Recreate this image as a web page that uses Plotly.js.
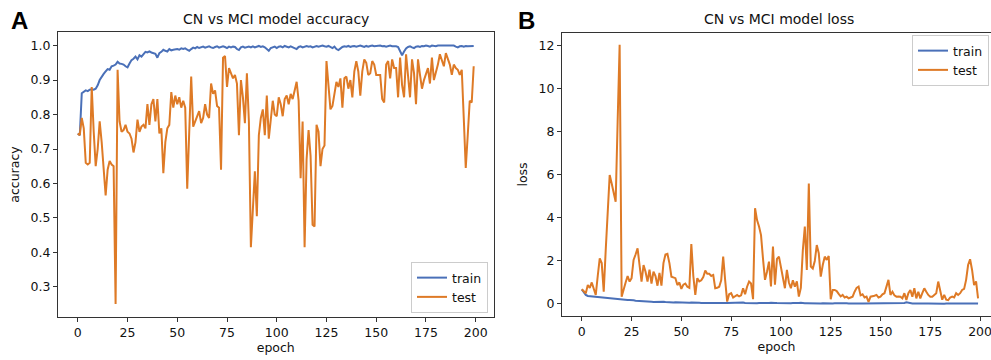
<!DOCTYPE html>
<html>
<head>
<meta charset="utf-8">
<script src="https://cdn.plot.ly/plotly-3.0.1.min.js"></script>
<style>
html,body{margin:0;padding:0;background:#fff;}
#chart{width:991px;height:360px;}
</style>
</head>
<body>
<div id="chart"></div>
<script>
// ---- data ----
var epochCount = 200;
var xTickVals = [0, 25, 50, 75, 100, 125, 150, 175, 200];
var accTickVals = [0.3, 0.4, 0.5, 0.6, 0.7, 0.8, 0.9, 1.0];
var accTickText = ["0.3", "0.4", "0.5", "0.6", "0.7", "0.8", "0.9", "1.0"];
var lossTickVals = [0, 2, 4, 6, 8, 10, 12];
var seriesNames = ["train", "test"];

var trainAcc = [
0.745,0.74,0.862,0.865,0.87,0.868,0.872,0.873,0.872,0.875,
0.885,0.9,0.91,0.918,0.925,0.932,0.93,0.94,0.942,0.945,
0.953,0.948,0.947,0.945,0.94,0.937,0.948,0.958,0.962,0.968,
0.96,0.972,0.968,0.975,0.982,0.98,0.983,0.98,0.978,0.976,
0.965,0.978,0.982,0.988,0.985,0.983,0.99,0.986,0.988,0.99,
0.99,0.988,0.992,0.99,0.992,0.988,0.985,0.99,0.994,0.992,
0.996,0.993,0.995,0.997,0.994,0.996,0.998,0.995,0.993,0.996,
0.998,0.994,0.996,0.998,0.996,0.993,0.997,0.995,0.997,0.996,
0.99,0.987,0.995,0.997,0.994,0.996,0.997,0.995,0.998,0.995,
0.997,0.999,0.996,0.998,0.995,0.99,0.985,0.993,0.995,0.997,
0.993,0.997,0.998,0.995,0.999,0.997,0.995,0.998,0.996,0.993,
0.99,0.996,0.998,0.995,0.997,0.999,0.997,0.998,0.995,0.998,
0.999,0.997,0.999,1.0,0.998,0.997,0.999,0.995,0.993,0.997,
0.99,0.987,0.993,0.996,0.998,0.997,0.999,0.996,0.998,0.999,
0.997,0.999,1.0,0.998,0.996,0.999,0.997,0.999,1.0,0.998,
0.999,0.998,1.0,0.998,0.999,0.997,0.999,1.0,0.998,0.999,
0.998,0.996,0.985,0.972,0.983,0.992,0.996,0.998,0.995,0.993,
0.997,0.998,0.996,0.999,0.998,1.0,0.999,0.997,1.0,0.999,
0.998,1.0,1.0,0.999,1.0,0.998,1.0,0.999,0.998,1.0,
0.997,0.995,0.998,0.999,0.997,0.999,0.998,0.999,0.998,0.999
];

var testAcc = [
0.745,0.74,0.79,0.76,0.66,0.655,0.66,0.88,0.75,0.65,
0.70,0.78,0.72,0.64,0.565,0.64,0.665,0.655,0.65,0.25,
0.93,0.78,0.75,0.755,0.77,0.75,0.745,0.73,0.69,0.72,
0.785,0.75,0.765,0.77,0.76,0.83,0.77,0.83,0.845,0.78,
0.845,0.745,0.76,0.63,0.72,0.76,0.77,0.865,0.82,0.855,
0.83,0.85,0.82,0.84,0.82,0.585,0.75,0.91,0.765,0.78,
0.79,0.81,0.775,0.79,0.83,0.80,0.79,0.89,0.86,0.87,
0.825,0.82,0.64,0.965,0.97,0.88,0.935,0.92,0.905,0.915,
0.89,0.74,0.90,0.85,0.775,0.92,0.78,0.415,0.55,0.635,
0.505,0.74,0.79,0.815,0.74,0.855,0.73,0.79,0.84,0.80,
0.795,0.85,0.83,0.795,0.845,0.855,0.83,0.86,0.845,0.87,
0.895,0.84,0.615,0.78,0.415,0.67,0.755,0.68,0.48,0.475,
0.77,0.75,0.65,0.70,0.71,0.955,0.88,0.815,0.825,0.855,
0.895,0.88,0.905,0.82,0.905,0.91,0.875,0.90,0.85,0.925,
0.955,0.925,0.855,0.925,0.96,0.95,0.915,0.92,0.955,0.945,
0.915,0.915,0.915,0.845,0.835,0.945,0.955,0.905,0.96,0.935,
0.935,0.85,0.965,0.885,0.85,0.975,0.91,0.85,0.96,0.92,
0.83,0.96,0.915,0.875,0.90,0.915,0.935,0.89,0.965,0.90,
0.92,0.945,0.975,0.96,0.94,0.978,0.96,0.945,0.915,0.945,
0.935,0.93,0.915,0.93,0.79,0.645,0.74,0.84,0.835,0.94
];

var trainLoss = [
0.68,0.55,0.42,0.37,0.36,0.35,0.34,0.33,0.32,0.31,
0.30,0.28,0.27,0.26,0.25,0.24,0.235,0.22,0.21,0.20,
0.19,0.20,0.19,0.18,0.185,0.19,0.17,0.15,0.14,0.13,
0.15,0.12,0.125,0.11,0.10,0.10,0.095,0.10,0.10,0.105,
0.13,0.10,0.09,0.08,0.085,0.09,0.07,0.075,0.07,0.065,
0.065,0.07,0.06,0.065,0.06,0.07,0.075,0.065,0.055,0.06,
0.05,0.055,0.05,0.045,0.05,0.045,0.04,0.045,0.05,0.045,
0.04,0.05,0.045,0.04,0.045,0.05,0.04,0.045,0.04,0.045,
0.06,0.065,0.045,0.04,0.045,0.04,0.04,0.045,0.035,0.045,
0.04,0.03,0.04,0.035,0.045,0.055,0.065,0.045,0.04,0.035,
0.045,0.035,0.03,0.04,0.03,0.035,0.04,0.03,0.035,0.045,
0.055,0.035,0.03,0.035,0.03,0.025,0.03,0.03,0.035,0.03,
0.025,0.03,0.025,0.02,0.025,0.03,0.025,0.035,0.04,0.03,
0.045,0.05,0.035,0.03,0.025,0.03,0.025,0.03,0.025,0.02,
0.025,0.02,0.02,0.025,0.03,0.02,0.025,0.02,0.018,0.022,
0.02,0.022,0.018,0.02,0.02,0.025,0.02,0.018,0.02,0.02,
0.022,0.03,0.05,0.075,0.05,0.03,0.025,0.02,0.025,0.03,
0.022,0.02,0.025,0.018,0.02,0.015,0.018,0.022,0.015,0.018,
0.02,0.015,0.015,0.018,0.015,0.02,0.015,0.018,0.02,0.015,
0.022,0.025,0.02,0.018,0.022,0.018,0.02,0.018,0.02,0.018
];

var testLoss = [
0.68,0.6,0.5,0.88,0.75,1.0,0.72,0.42,1.3,2.12,
1.9,0.57,2.5,4.5,6.0,5.6,5.2,4.75,8.5,12.05,
0.34,0.73,1.0,1.3,1.04,1.2,2.05,2.3,2.59,1.8,
1.04,1.81,1.5,1.04,1.6,0.95,1.5,1.3,0.85,1.45,
0.85,1.9,2.3,2.33,1.9,1.27,1.25,1.2,0.88,1.0,
0.7,0.9,0.95,0.8,0.75,2.79,1.3,0.42,1.2,1.05,
1.1,1.25,1.55,1.4,1.4,1.3,1.35,0.73,0.75,0.8,
1.1,2.2,1.1,0.11,0.45,0.5,0.3,0.35,0.42,0.35,
0.4,0.73,0.45,0.8,1.04,0.95,0.22,4.45,3.9,3.6,
3.2,2.1,1.12,1.5,1.97,0.81,2.67,0.9,2.1,2.2,
1.7,1.35,0.73,1.58,1.0,0.73,1.1,0.8,1.05,0.34,
0.75,2.5,3.6,1.58,5.6,1.74,1.65,2.0,2.74,2.36,
1.27,1.81,2.2,2.05,2.23,0.22,0.65,0.65,0.6,0.47,
0.35,0.42,0.3,0.34,0.26,0.3,0.34,0.57,0.75,0.81,
0.4,0.45,0.3,0.34,0.1,0.34,0.35,0.38,0.42,0.3,
0.34,0.45,0.5,0.84,1.12,0.42,0.57,0.4,0.34,0.35,
0.34,0.26,0.5,0.18,0.5,0.65,0.34,0.73,0.26,0.57,
0.26,0.5,0.73,0.57,0.42,0.34,0.34,0.42,0.5,1.04,
0.6,0.2,0.42,0.2,0.18,0.3,0.34,0.3,0.5,0.42,
0.5,0.65,0.7,1.12,1.81,2.08,1.58,0.88,1.05,0.26
];

var epochs = [];
for (var i = 0; i < epochCount; i++) epochs.push(i);

// ---- styling ----
var BLUE = "#4A70B8";
var ORANGE = "#DE7A26";
var FONT = "DejaVu Sans, sans-serif";
var LW = 2;

var traces = [
  {x: epochs, y: trainAcc, name: seriesNames[0], type: "scatter", mode: "lines",
   line: {color: BLUE, width: LW}, xaxis: "x", yaxis: "y", legend: "legend"},
  {x: epochs, y: testAcc, name: seriesNames[1], type: "scatter", mode: "lines",
   line: {color: ORANGE, width: LW}, xaxis: "x", yaxis: "y", legend: "legend"},
  {x: epochs, y: trainLoss, name: seriesNames[0], type: "scatter", mode: "lines",
   line: {color: BLUE, width: LW}, xaxis: "x2", yaxis: "y2", legend: "legend2"},
  {x: epochs, y: testLoss, name: seriesNames[1], type: "scatter", mode: "lines",
   line: {color: ORANGE, width: LW}, xaxis: "x2", yaxis: "y2", legend: "legend2"}
];

var W = 991, H = 360;
function px(x) { return x / W; }
function py(y) { return (H - y) / H; }

var axisCommon = {
  showline: true, mirror: true, linecolor: "#333", linewidth: 1,
  ticks: "outside", ticklen: 4, tickwidth: 1, tickcolor: "#333",
  showgrid: false, zeroline: false,
  ticklabeloverflow: "allow",
  tickfont: {family: FONT, size: 12.5, color: "#111"},
  fixedrange: true
};

function ax(extra) { return Object.assign({}, axisCommon, extra); }

var legendCommon = {
  bgcolor: "rgba(255,255,255,0.9)", bordercolor: "#ccc", borderwidth: 1,
  font: {family: FONT, size: 12.5, color: "#111"},
  itemwidth: 30, tracegroupgap: 0
};

var layout = {
  width: W, height: H,
  margin: {l: 0, r: 0, t: 0, b: 0},
  paper_bgcolor: "#fff", plot_bgcolor: "#fff",
  showlegend: true,
  xaxis: ax({domain: [px(58), px(493.5)], range: [-9.95, 208.95],
    tickvals: xTickVals, anchor: "y",
    title: {text: "epoch", font: {family: FONT, size: 12.5, color: "#111"}, standoff: 4}}),
  yaxis: ax({domain: [py(317), py(32)], range: [0.2125, 1.0395],
    tickvals: accTickVals, ticktext: accTickText, anchor: "x",
    title: {text: "accuracy", font: {family: FONT, size: 12.5, color: "#111"}, standoff: 8}}),
  xaxis2: ax({domain: [px(562), 1], range: [-9.95, 205.5],
    tickvals: xTickVals, anchor: "y2",
    title: {text: "epoch", font: {family: FONT, size: 12.5, color: "#111"}, standoff: 4}}),
  yaxis2: ax({domain: [py(316), py(33)], range: [-0.56, 12.6],
    tickvals: lossTickVals, anchor: "x2",
    title: {text: "loss", font: {family: FONT, size: 12.5, color: "#111"}, standoff: 8}}),
  legend: Object.assign({}, legendCommon, {x: px(488), y: py(313), xanchor: "right", yanchor: "bottom"}),
  legend2: Object.assign({}, legendCommon, {x: px(989), y: py(35), xanchor: "right", yanchor: "top"}),
  annotations: [
    {text: "CN vs MCI model accuracy", xref: "paper", yref: "paper", x: px(275.5), y: py(19),
     xanchor: "center", yanchor: "middle", showarrow: false,
     font: {family: FONT, size: 14, color: "#111"}},
    {text: "CN vs MCI model loss", xref: "paper", yref: "paper", x: px(779), y: py(19),
     xanchor: "center", yanchor: "middle", showarrow: false,
     font: {family: FONT, size: 14, color: "#111"}},
    {text: "<b>A</b>", xref: "paper", yref: "paper", x: px(9), y: py(20),
     xanchor: "left", yanchor: "middle", showarrow: false,
     font: {family: "Liberation Sans, Arial, sans-serif", size: 24, color: "#000"}},
    {text: "<b>B</b>", xref: "paper", yref: "paper", x: px(516), y: py(20),
     xanchor: "left", yanchor: "middle", showarrow: false,
     font: {family: "Liberation Sans, Arial, sans-serif", size: 24, color: "#000"}}
  ]
};

Plotly.newPlot("chart", traces, layout, {displayModeBar: false, staticPlot: true});
</script>
</body>
</html>
